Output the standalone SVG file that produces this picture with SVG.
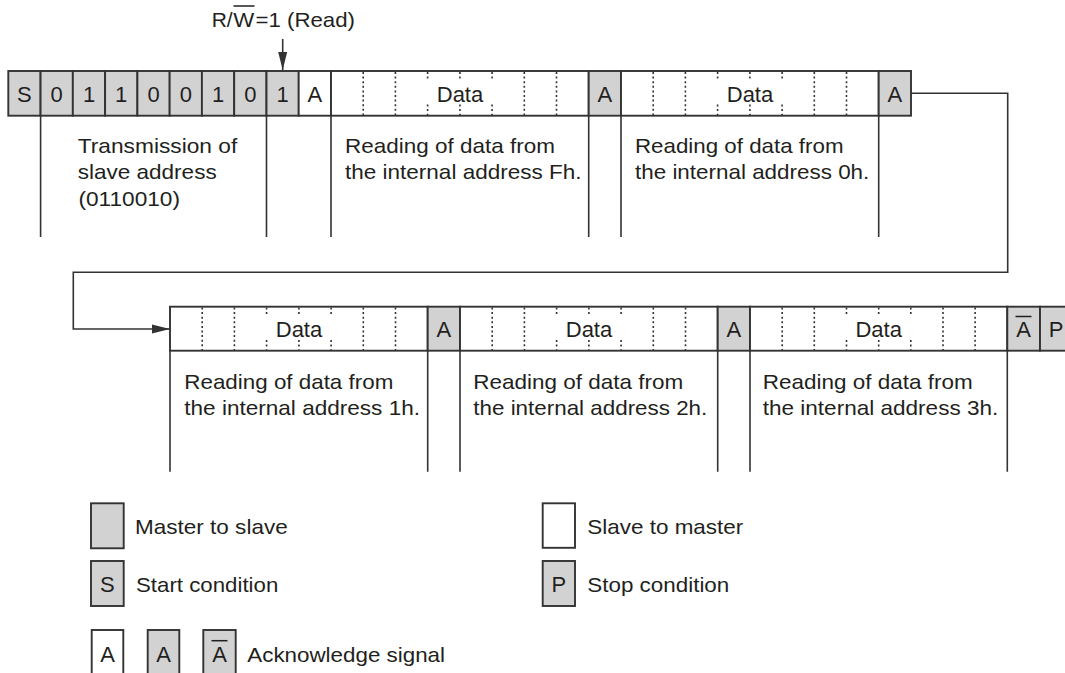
<svg xmlns="http://www.w3.org/2000/svg" width="1065" height="673" viewBox="0 0 1065 673">
<style>
text{font-family:"Liberation Sans",Arial,sans-serif;fill:#231f20;}
.lbl{font-size:22px;text-anchor:middle;}
.body{font-size:21px;}
.m{fill:#d2d2d2;stroke:#333;stroke-width:1.9;}
.s{fill:#fff;stroke:#333;stroke-width:1.9;}
.dot{stroke:#333;stroke-width:1.6;stroke-dasharray:2 2.6;fill:none;}
.sep{stroke:#333;stroke-width:1.6;fill:none;}
.conn{stroke:#333;stroke-width:1.6;fill:none;}
.ov{stroke:#231f20;stroke-width:1.5;}
</style>
<defs>
<marker id="ah" markerUnits="userSpaceOnUse" markerWidth="20" markerHeight="12" refX="18" refY="5" orient="auto">
<path d="M0,0.5 L18,5 L0,9.5 Z" fill="#333"/>
</marker>
</defs>

<g id="rw-label">
<text class="body" x="211.7" y="27.3">R/</text>
<text class="body" x="233.3" y="27.3" textLength="21" lengthAdjust="spacingAndGlyphs">W</text>
<line class="ov" x1="233.5" y1="6" x2="254.5" y2="6"/>
<text class="body" x="255.5" y="27.3" textLength="99.5" lengthAdjust="spacingAndGlyphs">=1 (Read)</text>
</g>

<g id="top-row">
<rect class="m" x="8.3" y="71" width="32.27" height="44.7"/>
<rect class="m" x="40.57" y="71" width="32.27" height="44.7"/>
<rect class="m" x="72.84" y="71" width="32.27" height="44.7"/>
<rect class="m" x="105.1" y="71" width="32.27" height="44.7"/>
<rect class="m" x="137.4" y="71" width="32.27" height="44.7"/>
<rect class="m" x="169.65" y="71" width="32.27" height="44.7"/>
<rect class="m" x="201.9" y="71" width="32.27" height="44.7"/>
<rect class="m" x="234.2" y="71" width="32.27" height="44.7"/>
<rect class="m" x="266.5" y="71" width="32.27" height="44.7"/>
<rect class="s" x="298.7" y="71" width="32.3" height="44.7"/>
<rect class="s" x="331" y="71" width="257.7" height="44.7"/>
<rect class="m" x="588.7" y="71" width="32.3" height="44.7"/>
<rect class="s" x="621" y="71" width="257.7" height="44.7"/>
<rect class="m" x="878.7" y="71" width="32.3" height="44.7"/>
<text class="lbl" x="24.4" y="101.5">S</text>
<text class="lbl" x="56.7" y="101.5">0</text>
<text class="lbl" x="89" y="101.5">1</text>
<text class="lbl" x="121.2" y="101.5">1</text>
<text class="lbl" x="153.5" y="101.5">0</text>
<text class="lbl" x="185.8" y="101.5">0</text>
<text class="lbl" x="218" y="101.5">1</text>
<text class="lbl" x="250.3" y="101.5">0</text>
<text class="lbl" x="282.6" y="101.5">1</text>
<text class="lbl" x="314.9" y="101.5">A</text>
<text class="lbl" x="460" y="101.5">Data</text>
<text class="lbl" x="604.8" y="101.5">A</text>
<text class="lbl" x="750" y="101.5">Data</text>
<text class="lbl" x="894.8" y="101.5">A</text>
<path class="dot" d="M363.2,72V115 M395.4,72V115 M524.3,72V115 M556.5,72V115 M427.6,72V80 M459.9,72V80 M492.1,72V80 M427.6,104.5V115 M459.9,104.5V115 M492.1,104.5V115"/>
<path class="dot" d="M653.2,72V115 M685.4,72V115 M814.3,72V115 M846.5,72V115 M717.6,72V80 M749.9,72V80 M782.1,72V80 M717.6,104.5V115 M749.9,104.5V115 M782.1,104.5V115"/>
<path class="sep" d="M40.6,115.7V237 M266.5,115.7V237 M331,115.7V237 M588.7,115.7V237 M621,115.7V237 M878.7,115.7V237"/>
</g>

<g id="top-desc">
<text class="body" x="77.7" y="152.7" textLength="159.6" lengthAdjust="spacingAndGlyphs">Transmission of</text>
<text class="body" x="77.7" y="179.3" textLength="139" lengthAdjust="spacingAndGlyphs">slave address</text>
<text class="body" x="78.5" y="205.5" textLength="101.5" lengthAdjust="spacingAndGlyphs">(0110010)</text>
<text class="body" x="345" y="153.3" textLength="210" lengthAdjust="spacingAndGlyphs">Reading of data from</text>
<text class="body" x="345" y="179.3" textLength="236.5" lengthAdjust="spacingAndGlyphs">the internal address Fh.</text>
<text class="body" x="635" y="153.3" textLength="208.5" lengthAdjust="spacingAndGlyphs">Reading of data from</text>
<text class="body" x="635" y="179.3" textLength="234.3" lengthAdjust="spacingAndGlyphs">the internal address 0h.</text>
</g>

<g id="bottom-row">
<rect class="s" x="170" y="306.7" width="257.7" height="44"/>
<rect class="m" x="427.7" y="306.7" width="32.3" height="44"/>
<rect class="s" x="460" y="306.7" width="257.7" height="44"/>
<rect class="m" x="717.7" y="306.7" width="32.3" height="44"/>
<rect class="s" x="750" y="306.7" width="257.3" height="44"/>
<rect class="m" x="1007.3" y="306.7" width="32.7" height="44"/>
<rect class="m" x="1040" y="306.7" width="32.3" height="44"/>
<text class="lbl" x="299" y="337">Data</text>
<text class="lbl" x="443.8" y="337">A</text>
<text class="lbl" x="589" y="337">Data</text>
<text class="lbl" x="733.8" y="337">A</text>
<text class="lbl" x="878.7" y="337">Data</text>
<text class="lbl" x="1023.6" y="337">A</text>
<line class="ov" x1="1015.5" y1="316.5" x2="1031.5" y2="316.5"/>
<text class="lbl" x="1056.2" y="337">P</text>
<path class="dot" d="M202.2,307.5V350 M234.4,307.5V350 M363.3,307.5V350 M395.5,307.5V350 M266.6,307.5V315.5 M298.9,307.5V315.5 M331.1,307.5V315.5 M266.6,340V350 M298.9,340V350 M331.1,340V350"/>
<path class="dot" d="M492.2,307.5V350 M524.4,307.5V350 M653.3,307.5V350 M685.5,307.5V350 M556.6,307.5V315.5 M588.9,307.5V315.5 M621.1,307.5V315.5 M556.6,340V350 M588.9,340V350 M621.1,340V350"/>
<path class="dot" d="M782.2,307.5V350 M814.3,307.5V350 M943,307.5V350 M975.1,307.5V350 M846.5,307.5V315.5 M878.7,307.5V315.5 M910.8,307.5V315.5 M846.5,340V350 M878.7,340V350 M910.8,340V350"/>
<path class="sep" d="M170,350.7V471.7 M427.7,350.7V471.7 M460,350.7V471.7 M717.7,350.7V471.7 M750,350.7V471.7 M1007.3,350.7V471.7"/>
</g>

<g id="bottom-desc">
<text class="body" x="184.3" y="389.3" textLength="209" lengthAdjust="spacingAndGlyphs">Reading of data from</text>
<text class="body" x="184.3" y="415" textLength="235.7" lengthAdjust="spacingAndGlyphs">the internal address 1h.</text>
<text class="body" x="473.3" y="389.3" textLength="210" lengthAdjust="spacingAndGlyphs">Reading of data from</text>
<text class="body" x="473.3" y="415" textLength="234" lengthAdjust="spacingAndGlyphs">the internal address 2h.</text>
<text class="body" x="762.7" y="389.3" textLength="210" lengthAdjust="spacingAndGlyphs">Reading of data from</text>
<text class="body" x="762.7" y="415" textLength="235.6" lengthAdjust="spacingAndGlyphs">the internal address 3h.</text>
</g>

<g id="connectors">
<path class="conn" d="M282.7,39V70" marker-end="url(#ah)"/>
<path class="conn" d="M911,93.3H1007.7V272.3H73.3V329H170" marker-end="url(#ah)"/>
</g>

<g id="legend-master">
<rect class="m" x="91" y="503.3" width="32.7" height="45"/>
<text class="body" x="135" y="534.3" textLength="152.7" lengthAdjust="spacingAndGlyphs">Master to slave</text>
</g>
<g id="legend-slave">
<rect class="s" x="542.7" y="503.3" width="32.3" height="44.5"/>
<text class="body" x="587.3" y="534.3" textLength="156" lengthAdjust="spacingAndGlyphs">Slave to master</text>
</g>
<g id="legend-start">
<rect class="m" x="91" y="561" width="32.7" height="45"/>
<text class="lbl" x="107.3" y="591.7">S</text>
<text class="body" x="136" y="592.3" textLength="142.3" lengthAdjust="spacingAndGlyphs">Start condition</text>
</g>
<g id="legend-stop">
<rect class="m" x="542.7" y="561" width="32.3" height="45"/>
<text class="lbl" x="558.8" y="591.7">P</text>
<text class="body" x="587.3" y="592.3" textLength="142" lengthAdjust="spacingAndGlyphs">Stop condition</text>
</g>
<g id="legend-ack">
<rect class="s" x="91.7" y="630" width="31.6" height="60"/>
<text class="lbl" x="107.5" y="661.5">A</text>
<rect class="m" x="147.7" y="630" width="31.6" height="60"/>
<text class="lbl" x="163.5" y="661.5">A</text>
<rect class="m" x="203.3" y="630" width="32.4" height="60"/>
<text class="lbl" x="219.5" y="661.5">A</text>
<line class="ov" x1="211.5" y1="640.7" x2="227.5" y2="640.7"/>
<text class="body" x="247.3" y="661.7" textLength="197.7" lengthAdjust="spacingAndGlyphs">Acknowledge signal</text>
</g>
</svg>
